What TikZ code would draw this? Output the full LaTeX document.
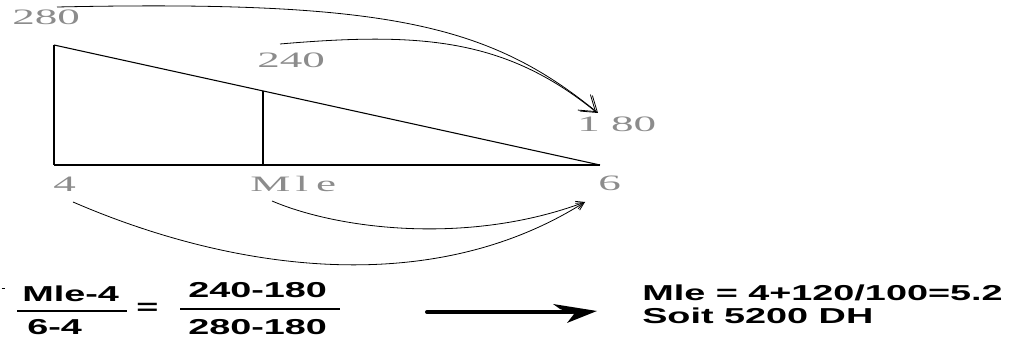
\documentclass[tikz,border=0pt]{standalone}
\usepackage{fontspec}
\usetikzlibrary{arrows.meta}
\newfontfamily\labfont[FakeStretch=2.05]{Liberation Serif}
\newfontfamily\eqfont[FakeStretch=1.75]{Liberation Sans}
\begin{document}
\begin{tikzpicture}[x=0.75pt,y=-0.75pt,
  lab/.style={font=\labfont\fontsize{16.5}{18}\selectfont, text=black!45, inner sep=0, anchor=base west},
  eq/.style={font=\eqfont\bfseries\fontsize{16.2}{18}\selectfont, inner sep=0, anchor=base west},
  edge/.style={line width=0.8pt},
  heavy/.style={line width=1.4pt},
  curve/.style={line width=0.6pt, -{Straight Barb[length=11pt,width=15pt]}},
  lowcurve/.style={line width=0.6pt, -{Straight Barb[length=6pt,width=6pt]}},
  bar/.style={line width=1pt}]
\useasboundingbox (0,0) rectangle (1021,341);
% labels
\node[lab] (n280) at (12,25) {280};
\node[lab] (n240) at (257,68) {240};
\node[lab] (n180) at (577,132) {1 80};
\node[lab] (n4) at (53,192) {4};
\node[lab] (nmle) at (250,192) {M\kern4pt l\kern6pt e};
\node[lab] (n6) at (598,191) {6};
% triangle
\coordinate (A) at (54,45);
\coordinate (B) at (54,165);
\coordinate (C) at (600,165);
\coordinate (D) at (263,91.5);
\coordinate (E) at (263,165);
\draw[heavy] (A) -- (B);
\draw[edge] (B) -- (C);
\draw[edge] (A) -- (C);
\draw[heavy] (D) -- (E);
% curved arrows
\coordinate (s1) at (57,7);
\coordinate (s2) at (280,44);
\coordinate (t1) at (598,113);
\coordinate (t2) at (596,112);
\coordinate (s3) at (73,202);
\coordinate (s4) at (272,201);
\coordinate (t3) at (585,202);
\draw[curve] (s1) .. controls (390,0) and (490,25) .. (t1);
\draw[curve] (s2) .. controls (420,32) and (505,38) .. (t2);
\draw[lowcurve] (s3) .. controls (230,270) and (430,300) .. (t3);
\draw[lowcurve] (s4) .. controls (340,230) and (470,245) .. (t3);
% equation
\coordinate (m1) at (1.5,288);
\coordinate (m2) at (5,288);
\draw[line width=0.6pt] (m1) -- (m2);
\node[eq] (num1) at (22,302) {Mle-4};
\node[eq] (den1) at (27,335) {6-4};
\coordinate (b1l) at (17,311);
\coordinate (b1r) at (127,311);
\draw[bar] (b1l) -- (b1r);
\node[eq, anchor=center] (eqs) at (147.5,309) {=};
\node[eq] (num2) at (188,298) {240-180};
\node[eq] (den2) at (188,335) {280-180};
\coordinate (b2l) at (180,309);
\coordinate (b2r) at (340,309);
\draw[bar] (b2l) -- (b2r);
% thick arrow
\coordinate (ar0) at (427,312);
\coordinate (ar1) at (572,312);
\draw[line width=3pt, line cap=round] (ar0) -- (ar1);
\fill (553,304) -- (597,311) -- (567,323) -- (574,314) -- (560,309) -- cycle;
% result
\node[eq] (res1) at (642,301) {Mle = 4+120/100=5.2};
\node[eq] (res2) at (642,324) {Soit 5200 DH};
\end{tikzpicture}
\end{document}
